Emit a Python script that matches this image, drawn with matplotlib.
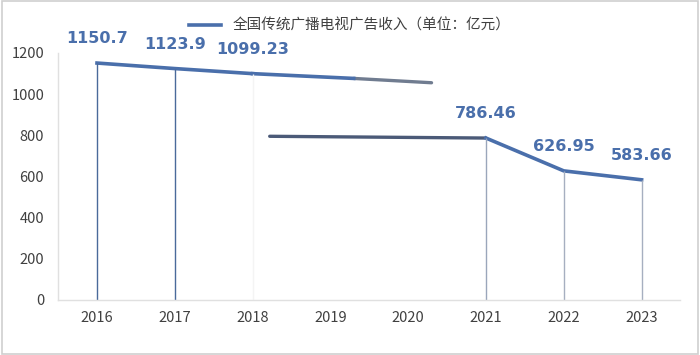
import numpy as np
import matplotlib
matplotlib.use("Agg")
import matplotlib.pyplot as plt

plt.rcParams['font.family'] = ['Noto Sans CJK SC', 'DejaVu Sans']

years = ['2016', '2017', '2018', '2019', '2020', '2021', '2022', '2023']
revenue = [1150.7, 1123.9, 1099.23, np.nan, np.nan, 786.46, 626.95, 583.66]
labels = ['1150.7', '1123.9', '1099.23', '', '', '786.46', '626.95', '583.66']

# the smudged pieces of the line between 2018 and 2021 in the picture
upper_x = [2.0, 3.3, 4.3]
upper_y = [1099.23, 1076, 1055]
lower_x = [2.22, 5.0]
lower_y = [795, 786.46]

legend_text = '全国传统广播电视广告收入（单位：亿元）'
blue = '#4a6fab'

fig = plt.figure(figsize=(7, 3.55), dpi=100)
fig.patches.append(plt.Rectangle((0.003, 0.004), 0.994, 0.992, transform=fig.transFigure,
                                 fill=False, edgecolor='#cfcfcf', linewidth=1.2))
ax = fig.add_axes([0.083, 0.155, 0.888, 0.696])

x = np.arange(len(years))
ax.plot(upper_x[1:], upper_y[1:], color='#707c90', linewidth=2.4, solid_capstyle='round')
ax.plot(upper_x[:2], upper_y[:2], color=blue, linewidth=2.6)
ax.plot(lower_x, lower_y, color='#4b5a78', linewidth=2.4, solid_capstyle='round')
ax.plot(x, revenue, color=blue, linewidth=2.6, label=legend_text)

drop_colors = ['#4a6a9a', '#4a6a9a', '#f4f4f4', '#f4f4f4', '#f4f4f4', '#9aa6bb', '#a6afc0', '#a6afc0']
for i, v in enumerate(revenue):
    if not np.isnan(v):
        ax.vlines(x[i], 0, v, color=drop_colors[i], linewidth=1.0)
        ax.annotate(labels[i], (x[i], v), xytext=(0, 12), textcoords='offset points',
                    ha='center', va='bottom', fontsize=11.5, fontweight='bold',
                    color=blue, annotation_clip=False, family=['DejaVu Sans'])

ax.set_xlim(-0.5, 7.49)
ax.set_ylim(0, 1200)
ax.set_yticks(range(0, 1201, 200))
ax.set_xticks(x)
ax.set_xticklabels(years)
ax.tick_params(axis='both', length=0, labelsize=10.5, colors='#404040', pad=8)
ax.tick_params(axis='y', pad=10)
for s in ['top', 'right']:
    ax.spines[s].set_visible(False)
for s in ['left', 'bottom']:
    ax.spines[s].set_color('#e0e0e0')
    ax.spines[s].set_linewidth(1.0)

fig.legend(loc='upper center', bbox_to_anchor=(0.5, 0.985), frameon=False,
           fontsize=10.5, handlelength=2.2, labelcolor='#404040')

fig.savefig('out.png', dpi=100)
